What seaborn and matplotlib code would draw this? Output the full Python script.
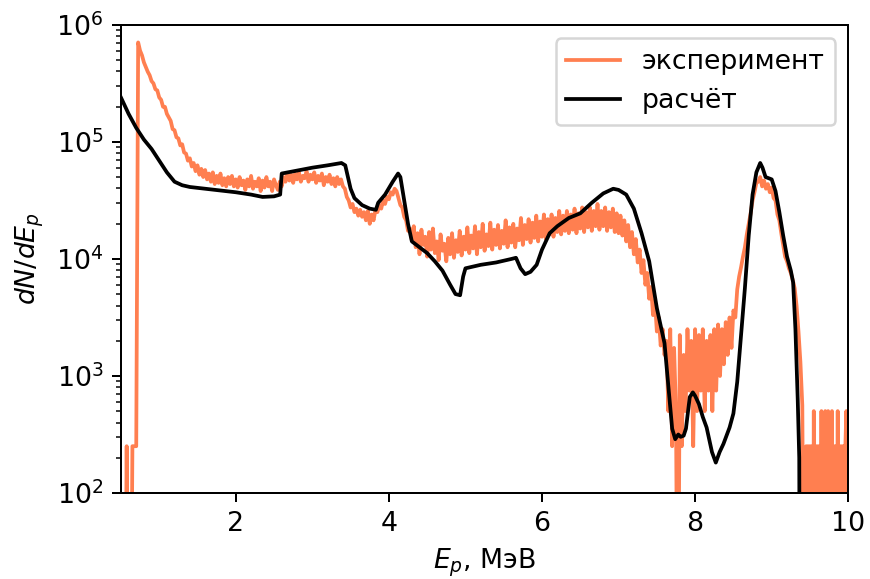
import numpy as np
import pandas as pd
import matplotlib
matplotlib.use("Agg")
import matplotlib.pyplot as plt
import seaborn as sns

# ---------------- data ----------------
# experimental spectrum: log10(counts) per energy bin, given per segment
exp_segment_start = [0.5, 0.725, 2.025, 3.425, 4.325, 7.625, 8.55, 9.45]
exp_segment_step = [0.025, 0.025, 0.025, 0.025, 0.025, 0.025, 0.025, 0.0125]

exp_log_rise = [0, 0, 0, 2.40, 0, 0, 2.40, 2.40, 2.40]
exp_log_decay = [
    5.85, 5.78, 5.74, 5.68, 5.64, 5.60, 5.57, 5.52, 5.50, 5.45,
    5.44, 5.38, 5.36, 5.30, 5.30, 5.24, 5.21, 5.18, 5.11, 5.10,
    5.04, 5.03, 4.97, 4.98, 4.91, 4.90, 4.84, 4.86, 4.79, 4.82,
    4.75, 4.80, 4.72, 4.77, 4.70, 4.76, 4.68, 4.73, 4.66, 4.74,
    4.64, 4.71, 4.65, 4.73, 4.63, 4.69, 4.62, 4.70, 4.64, 4.71,
    4.62, 4.68]
exp_log_plateau = [
    4.61, 4.70, 4.63, 4.67, 4.59, 4.68, 4.62, 4.71, 4.60, 4.66,
    4.62, 4.69, 4.58, 4.67, 4.61, 4.70, 4.62, 4.66, 4.58, 4.68,
    4.63, 4.59, 4.66, 4.62,
    4.70, 4.66, 4.73, 4.67, 4.72, 4.65, 4.73, 4.68, 4.74, 4.66,
    4.71, 4.69, 4.75, 4.66, 4.72, 4.68, 4.74, 4.65, 4.71, 4.67,
    4.73, 4.63, 4.70, 4.66, 4.72, 4.64, 4.69, 4.62, 4.70, 4.64,
    4.68, 4.62]
exp_log_dip = [
    4.60, 4.53, 4.50, 4.44, 4.47, 4.40, 4.43, 4.37, 4.42, 4.36,
    4.40, 4.33, 4.41, 4.30, 4.38, 4.33, 4.42, 4.40, 4.46, 4.43,
    4.50, 4.47, 4.53, 4.51, 4.57, 4.55, 4.60, 4.58, 4.52, 4.46,
    4.44, 4.36, 4.33, 4.24, 4.26, 4.16]
exp_log_mid = [
    4.28, 4.10, 4.22, 4.04, 4.25, 4.12, 4.19, 4.02, 4.23, 4.08,
    4.26, 4.05, 4.15, 3.99, 4.21, 4.07, 4.13, 3.98, 4.18, 4.04,
    4.22, 4.01, 4.16, 4.06, 4.24, 4.03, 4.19, 4.08, 4.27, 4.05,
    4.20, 4.09, 4.28, 4.04, 4.23, 4.10, 4.30, 4.07, 4.21, 4.11,
    4.31, 4.08, 4.25, 4.12, 4.29, 4.09, 4.24, 4.13, 4.33, 4.10,
    4.27, 4.14, 4.30, 4.10, 4.26, 4.16, 4.35, 4.12, 4.29, 4.17,
    4.34, 4.14, 4.31, 4.18, 4.37, 4.15, 4.32, 4.19, 4.38, 4.17,
    4.34, 4.21, 4.38, 4.19, 4.35, 4.23, 4.41, 4.21, 4.37, 4.24,
    4.41, 4.22, 4.38, 4.25, 4.43, 4.22, 4.39, 4.26, 4.44, 4.23,
    4.40, 4.27, 4.44, 4.24, 4.41, 4.28, 4.47, 4.25, 4.41, 4.28,
    4.44, 4.24, 4.40, 4.27, 4.43, 4.23, 4.39, 4.22, 4.37, 4.20,
    4.33, 4.15, 4.29, 4.10, 4.23, 4.04, 4.17, 3.97, 4.08, 3.88,
    3.99, 3.78, 3.88, 3.66, 3.76, 3.52, 3.64, 3.38, 3.50, 3.26,
    3.40, 3.18]
exp_log_valley = [
    3.30, 2.70, 3.40, 2.40, 3.24, 2.70, 0, 3.35, 2.40, 3.18,
    2.70, 3.40, 2.875, 3.30, 2.40, 3.40, 2.70, 3.35, 2.875, 3.40,
    2.70, 3.30, 2.875, 3.35, 2.70, 3.40, 2.875, 3.44, 3.00, 3.40,
    3.10, 3.46, 3.18, 3.50, 3.24, 3.56, 3.50]
exp_log_peak = [
    3.74, 3.85, 3.93, 4.02, 4.10, 4.21, 4.30, 4.39, 4.50, 4.57,
    4.65, 4.66, 4.70, 4.62, 4.67, 4.60, 4.64, 4.57, 4.61, 4.52,
    4.50, 4.38, 4.33, 4.22, 4.12, 4.02, 3.98, 3.92, 3.88, 3.82,
    3.75, 3.60, 3.38, 3.12, 2.75, 0]
exp_log_tail = [
    2.40, 0, 2.40, 0, 2.40, 0, 2.40, 0, 2.70, 0,
    2.40, 0, 2.40, 0, 2.40, 0, 2.70, 0, 2.40, 0,
    2.70, 0, 2.40, 2.70, 0, 2.40, 0, 2.70, 0, 2.40,
    0, 2.40, 0, 2.70, 0, 2.40, 0, 2.40, 0, 2.40,
    0, 2.40, 2.70, 0, 2.40]

# calculation: energy (MeV) and log10(dN/dE)
calc_energy = [
    0.5, 0.6, 0.7, 0.8, 0.9, 1.0, 1.1, 1.2, 1.3, 1.4, 1.6, 1.8, 2.0, 2.2,
    2.35, 2.5, 2.58, 2.6, 2.8, 3.0, 3.2, 3.38, 3.43, 3.5, 3.55, 3.65, 3.75,
    3.83, 3.86, 3.95, 4.05, 4.12, 4.15, 4.2, 4.25, 4.3, 4.4, 4.5, 4.6, 4.7,
    4.8, 4.87, 4.93, 4.97, 5.0, 5.2, 5.4, 5.6, 5.66, 5.72, 5.78, 5.85, 5.93,
    6.0, 6.1, 6.2, 6.35, 6.5, 6.65, 6.8, 6.93, 7.0, 7.1, 7.2, 7.3, 7.4, 7.5,
    7.6, 7.7, 7.74, 7.78, 7.81, 7.85, 7.88, 7.93, 7.97, 8.0, 8.05, 8.1, 8.15,
    8.22, 8.27, 8.32, 8.37, 8.45, 8.5, 8.55, 8.6, 8.65, 8.7, 8.75, 8.8, 8.85,
    8.88, 8.92, 8.96, 9.0, 9.05, 9.1, 9.15, 9.2, 9.25, 9.28, 9.31, 9.34,
    9.36, 9.37]
calc_log = [
    5.38, 5.24, 5.12, 5.02, 4.94, 4.84, 4.74, 4.66, 4.63, 4.615, 4.60, 4.585,
    4.57, 4.55, 4.53, 4.535, 4.55, 4.73, 4.755, 4.78, 4.80, 4.82, 4.80, 4.60,
    4.52, 4.46, 4.43, 4.42, 4.48, 4.55, 4.66, 4.73, 4.70, 4.50, 4.30, 4.15,
    4.10, 4.05, 3.98, 3.90, 3.78, 3.70, 3.69, 3.85, 3.92, 3.95, 3.97, 4.00,
    4.01, 3.92, 3.87, 3.89, 3.95, 4.08, 4.22, 4.28, 4.35, 4.39, 4.48, 4.56,
    4.60, 4.59, 4.55, 4.43, 4.22, 3.98, 3.58, 3.28, 2.55, 2.46, 2.50, 2.48,
    2.49, 2.55, 2.82, 2.86, 2.83, 2.76, 2.65, 2.56, 2.35, 2.26, 2.35, 2.42,
    2.56, 2.68, 2.95, 3.35, 3.75, 4.20, 4.55, 4.74, 4.82, 4.78, 4.70, 4.69,
    4.68, 4.58, 4.40, 4.20, 4.02, 3.90, 3.80, 3.40, 2.80, 2.30, 0]

x_ticks = [2, 4, 6, 8, 10]
labels = ["эксперимент", "расчёт"]

# ---------------- build tables ----------------
segments = [exp_log_rise, exp_log_decay, exp_log_plateau, exp_log_dip,
            exp_log_mid, exp_log_valley, exp_log_peak, exp_log_tail]
exp_e, exp_l = [], []
for start, step, seg in zip(exp_segment_start, exp_segment_step, segments):
    for k, v in enumerate(seg):
        exp_e.append(round(start + k * step, 5))
        exp_l.append(v)
exp_df = pd.DataFrame({"E": exp_e, "N": np.power(10.0, exp_l)})
calc_df = pd.DataFrame({"E": calc_energy, "N": np.power(10.0, calc_log)})

# ---------------- plot ----------------
plt.rcParams["font.size"] = 10.7
dpi = 180
fig, ax = plt.subplots(figsize=(870 / dpi, 579 / dpi), dpi=dpi)
fig.subplots_adjust(left=0.139, right=0.975, top=0.957, bottom=0.1485)

sns.lineplot(data=exp_df, x="E", y="N", ax=ax, color="coral", linewidth=1.5,
             estimator=None, sort=False, label=labels[0])
sns.lineplot(data=calc_df, x="E", y="N", ax=ax, color="black", linewidth=1.5,
             estimator=None, sort=False, label=labels[1])

ax.set_yscale("log")
ax.set_xlim(0.5, 10)
ax.set_ylim(1e2, 1e6)
ax.set_xticks(x_ticks)
ax.set_xticklabels([str(t) for t in x_ticks])
ax.set_xlabel("$E_p$, МэВ")
ax.set_ylabel("$dN/dE_p$")
ax.legend(loc="upper right")

fig.savefig("out.png", dpi=dpi)
